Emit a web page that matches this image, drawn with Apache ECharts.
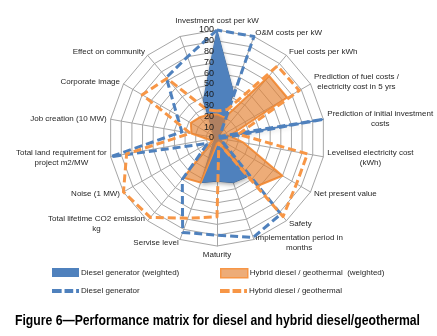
<!DOCTYPE html>
<html>
<head>
<meta charset="utf-8">
<script src="https://cdn.jsdelivr.net/npm/echarts@6.0.0/dist/echarts.min.js"></script>
<style>
  html, body { margin: 0; padding: 0; background: #fff; }
  #chart { width: 437px; height: 336px; }
</style>
</head>
<body>
<div id="chart"></div>
<script>
// indicators, clockwise from the top (the last spoke has no label in the source)
const indicatorNames = [
  'Investment cost per kW',
  'O&M costs per kW',
  'Fuel costs per kWh',
  'Prediction of fuel costs /\nelectricity cost in 5 yrs',
  'Prediction of initial investment\ncosts',
  'Levelised electricity cost\n(kWh)',
  'Net present value',
  'Safety',
  'Implementation period in\nmonths',
  'Maturity',
  'Servise level',
  'Total lifetime CO2 emission\nkg',
  'Noise (1 MW)',
  'Total land requirement for\nproject m2/MW',
  'Job creation (10 MW)',
  'Corporate image',
  'Effect on community',
  ''
]

const dieselWeighted = [100, 45, 5, 2, 100, 2, 5, 46, 44, 40, 44, 5, 2, 2, 2, 2, 5, 37]
const hybridWeighted = [22, 20, 75, 75, 12, 25, 70, 58, 5, 5, 44, 48, 5, 8, 24, 28, 25, 23]
const diesel = [100, 100, 5, 3, 100, 3, 5, 92, 98, 90, 93, 50, 10, 100, 33, 43, 73, 80]
const hybrid = [25, 28, 87, 88, 20, 85, 85, 95, 5, 73, 79, 96, 100, 85, 25, 80, 72, 28]

const axisMin = 0
const axisMax = 100
const axisSplits = 10

const seriesNames = [
  'Diesel generator (weighted)',
  'Hybrid diesel / geothermal  (weighted)',
  'Diesel generator',
  'Hybrid diesel / geothermal'
]
const TITLE = 'Figure 6\u2014Performance matrix for diesel and hybrid diesel/geothermal'

const BLUE = '#4F81BD'
const ORANGE = '#F79646'
const ORANGE_FILL = 'rgba(228,128,48,0.65)'
const GRID = '#a6a6a6'
const FONT = "'Liberation Sans', Arial, sans-serif"
const CENTER = [217, 138]
const RADIUS = 108

// echarts lays radar spokes out anticlockwise, the source goes clockwise
const ccw = list => [list[0]].concat(list.slice(1).reverse())

const dashIcon = 'path://M0,0h10v4h-10z M13,0h9v4h-9z M25,0h3v4h-3z'

const indicators = ccw(indicatorNames).map(name => ({ name: name, min: axisMin, max: axisMax }))

// second, bare radar on top only carries the 0..100 tick labels (Excel draws them over the fill)
const labelIndicators = indicators.map((ind, i) => {
  const item = { name: '', min: axisMin, max: axisMax }
  if (i === 0) {
    item.axisLabel = { show: true, fontSize: 9, color: '#1a1a1a', fontFamily: FONT, margin: 3 }
  }
  return item
})

// title is set in a condensed face in the source, squeeze it to the same width
const titleFont = 'bold 14px ' + FONT
const ctx = document.createElement('canvas').getContext('2d')
ctx.font = titleFont
const titleScale = 405 / ctx.measureText(TITLE).width

const chart = echarts.init(document.getElementById('chart'))

function legendItem(left, top, name, icon, height, style) {
  return {
    left: left,
    top: top,
    padding: 0,
    itemWidth: 27,
    itemHeight: height,
    selectedMode: false,
    textStyle: { fontSize: 8, color: '#262626', fontFamily: FONT, padding: [0, 0, 0, -3] },
    data: [{ name: name, icon: icon, itemStyle: style }]
  }
}

chart.setOption({
  animation: false,
  backgroundColor: '#fff',
  legend: [
    legendItem(52, 268, seriesNames[0], 'rect', 9, { color: BLUE, borderWidth: 0 }),
    legendItem(220, 268, seriesNames[1], 'rect', 9, { color: ORANGE_FILL, borderColor: ORANGE, borderWidth: 1.5 }),
    legendItem(52, 287, seriesNames[2], dashIcon, 4, { color: BLUE, borderWidth: 0 }),
    legendItem(220, 287, seriesNames[3], dashIcon, 4, { color: ORANGE, borderWidth: 0 })
  ],
  graphic: [{
    type: 'text',
    x: 217.5,
    y: 314,
    scaleX: titleScale,
    style: { text: TITLE, font: titleFont, fill: '#000', textAlign: 'center' }
  }],
  radar: [
    {
      center: CENTER,
      radius: RADIUS,
      startAngle: 90,
      splitNumber: axisSplits,
      shape: 'polygon',
      axisNameGap: 4,
      axisName: {
        color: '#262626',
        fontSize: 8,
        fontFamily: FONT,
        formatter: name => name.split('\n').map(l => '{c|' + l + '}').join('\n'),
        rich: { c: { align: 'center', fontSize: 8, fontFamily: FONT, color: '#262626', lineHeight: 10 } }
      },
      axisLine: { lineStyle: { color: GRID, width: 1 } },
      splitLine: { lineStyle: { color: GRID, width: 1 } },
      splitArea: { show: false },
      axisTick: { show: false },
      axisLabel: { show: false },
      indicator: indicators
    },
    {
      z: 10,
      center: CENTER,
      radius: RADIUS,
      startAngle: 90,
      splitNumber: axisSplits,
      shape: 'polygon',
      axisName: { show: false },
      axisLine: { show: false },
      splitLine: { show: false },
      splitArea: { show: false },
      axisTick: { show: false },
      axisLabel: { show: false },
      indicator: labelIndicators
    }
  ],
  series: [
    {
      type: 'radar',
      name: seriesNames[0],
      symbol: 'none',
      z: 2,
      lineStyle: { color: BLUE, width: 1 },
      itemStyle: { color: BLUE },
      areaStyle: { color: BLUE, opacity: 1, shadowBlur: 4, shadowColor: 'rgba(0,0,0,0.35)', shadowOffsetY: 2 },
      data: [{ name: seriesNames[0], value: ccw(dieselWeighted) }]
    },
    {
      type: 'radar',
      name: seriesNames[1],
      symbol: 'none',
      z: 3,
      lineStyle: { color: ORANGE, width: 2 },
      itemStyle: { color: ORANGE },
      areaStyle: { color: ORANGE_FILL, opacity: 1 },
      data: [{ name: seriesNames[1], value: ccw(hybridWeighted) }]
    },
    {
      type: 'radar',
      name: seriesNames[2],
      symbol: 'none',
      z: 4,
      lineStyle: { color: BLUE, width: 3, type: [8, 4] },
      itemStyle: { color: BLUE },
      data: [{ name: seriesNames[2], value: ccw(diesel) }]
    },
    {
      type: 'radar',
      name: seriesNames[3],
      symbol: 'none',
      z: 5,
      lineStyle: { color: ORANGE, width: 3, type: [8, 4] },
      itemStyle: { color: ORANGE },
      data: [{ name: seriesNames[3], value: ccw(hybrid) }]
    }
  ]
})
</script>
</body>
</html>
